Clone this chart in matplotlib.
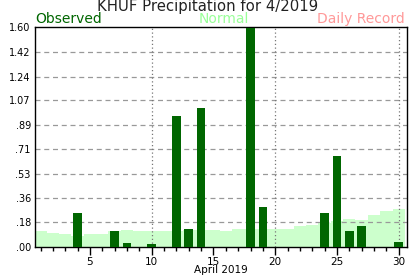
import numpy as np
import matplotlib
matplotlib.use('Agg')
import matplotlib.pyplot as plt

# daily values, April 2019
days = np.arange(1, 31)
observed = [0, 0, 0, 0.25, 0, 0, 0.12, 0.03, 0, 0.02,
            0, 0.95, 0.13, 1.01, 0, 0, 0, 1.59, 0.29, 0,
            0, 0, 0, 0.25, 0.66, 0.12, 0.15, 0, 0, 0.04]
normal = [0.12, 0.10, 0.095, 0.08, 0.095, 0.095, 0.12, 0.126, 0.117, 0.117,
          0.117, 0.117, 0.126, 0.126, 0.126, 0.117, 0.134, 0.134, 0.13, 0.134,
          0.134, 0.153, 0.16, 0.175, 0.19, 0.204, 0.197, 0.234, 0.263, 0.277]
yticks = [0, .18, .36, .53, .71, .89, 1.07, 1.24, 1.42, 1.60]
ylabels = ['.00', '.18', '.36', '.53', '.71', '.89', '1.07', '1.24', '1.42', '1.60']
xticks = [5, 10, 15, 20, 25, 30]

fig = plt.figure(figsize=(4.17, 2.76), dpi=100)
ax = fig.add_axes([0.0839, 0.105, 0.976 - 0.0839, 0.902 - 0.105])

ax.bar(days, normal, width=1.0, color='#ccffcc', zorder=1)
ax.bar(days, observed, width=0.7, color='#006600', zorder=3)

# grid
for y in yticks[1:-1]:
    ax.axhline(y, color='#999999', ls=(0, (4, 3)), lw=0.9, zorder=2)
for x in [10, 20, 30]:
    ax.axvline(x, color='#777777', ls=(0, (1, 2)), lw=0.9, zorder=2)

ax.set_xlim(0.55, 30.67)
ax.set_ylim(0, 1.6)
ax.set_yticks(yticks)
ax.set_yticklabels(ylabels, fontsize=7)
ax.tick_params(axis='y', length=0, pad=3)
ax.set_xticks(xticks)
ax.set_xticklabels([str(x) for x in xticks], fontsize=7.5)
ax.set_xticks(days, minor=True)
ax.tick_params(axis='x', which='major', length=6, width=1, pad=1)
ax.tick_params(axis='x', which='minor', length=3, width=1)
for s in ax.spines.values():
    s.set_linewidth(1)
ax.set_xlabel('April 2019', fontsize=7.5, labelpad=-1)

fig.text(0.497, 0.978, 'KHUF Precipitation for 4/2019', ha='center', va='center', fontsize=10.7, color='#222222')
fig.text(0.084, 0.932, 'Observed', ha='left', va='center', fontsize=10, color='#006600')
fig.text(0.537, 0.932, 'Normal', ha='center', va='center', fontsize=10, color='#99ff99')
fig.text(0.97, 0.932, 'Daily Record', ha='right', va='center', fontsize=10, color='#ff9999')

fig.savefig('out.png', dpi=100)
